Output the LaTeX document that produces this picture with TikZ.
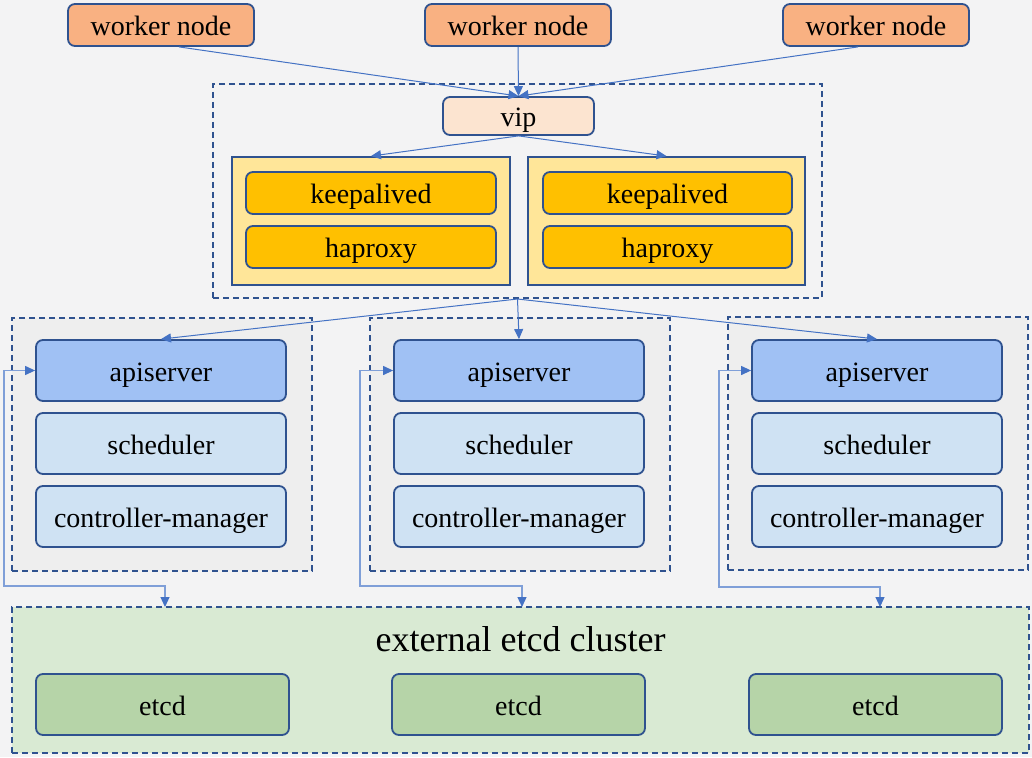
\documentclass[tikz,border=0pt]{standalone}
\usepackage{fontspec}
\setmainfont{Liberation Serif}
\usetikzlibrary{arrows.meta}
\definecolor{bord}{HTML}{2F528F}
\definecolor{arr}{HTML}{4472C4}
\definecolor{loopc}{HTML}{7F9FD8}
\definecolor{bgc}{HTML}{F3F3F4}
\definecolor{workerc}{HTML}{F9B182}
\definecolor{vipc}{HTML}{FCE4D0}
\definecolor{lbc}{HTML}{FFE699}
\definecolor{kac}{HTML}{FFC000}
\definecolor{mc}{HTML}{EEEEEE}
\definecolor{apic}{HTML}{A0C1F4}
\definecolor{schc}{HTML}{CFE2F3}
\definecolor{etcdcc}{HTML}{D9EAD3}
\definecolor{etcdc}{HTML}{B6D4A8}
\tikzset{
  rbox/.style={draw=bord, line width=1.8pt, rounded corners=7pt, inner sep=0pt, align=center, text height=21.5pt, text depth=0.5pt},
  sbox/.style={draw=bord, line width=1.8pt, inner sep=0pt},
  dbox/.style={draw=bord, line width=2pt, dash pattern=on 6pt off 4pt, inner sep=0pt},
  conn/.style={draw=arr, line width=1pt, -{Triangle[length=10pt,width=9pt]}},
  loopconn/.style={draw=loopc, line width=1.2pt, {Triangle[length=10pt,width=9pt,color=arr]}-{Triangle[length=10pt,width=9pt,color=arr]}},
}
\begin{document}
\begin{tikzpicture}[x=1pt,y=-1pt, font=\fontsize{28}{30}\selectfont]
\fill[bgc] (0,0) rectangle (1032,757);
\useasboundingbox (0,0) rectangle (1032,757);

% worker nodes
\node[rbox, fill=workerc, minimum width=186pt, minimum height=42pt] (w1) at (161,25) {worker node};
\node[rbox, fill=workerc, minimum width=186pt, minimum height=42pt] (w2) at (518,25) {worker node};
\node[rbox, fill=workerc, minimum width=186pt, minimum height=42pt] (w3) at (876,25) {worker node};

% load balancer area
\node[dbox, minimum width=609pt, minimum height=214pt] (lb) at (517.5,191) {};
\node[rbox, fill=vipc, minimum width=151pt, minimum height=38pt] (vip) at (518.5,116) {vip};
\node[sbox, fill=lbc, minimum width=278pt, minimum height=128pt] (lbL) at (371,221) {};
\node[sbox, fill=lbc, minimum width=277pt, minimum height=128pt] (lbR) at (666.5,221) {};
\node[rbox, fill=kac, minimum width=250pt, minimum height=42pt] (kaL) at (371,193) {keepalived};
\node[rbox, fill=kac, minimum width=250pt, minimum height=42pt] (haL) at (371,247) {haproxy};
\node[rbox, fill=kac, minimum width=249pt, minimum height=42pt] (kaR) at (667.5,193) {keepalived};
\node[rbox, fill=kac, minimum width=249pt, minimum height=42pt] (haR) at (667.5,247) {haproxy};

% masters
\node[dbox, fill=mc, minimum width=300pt, minimum height=253pt] (m1) at (162,444.5) {};
\node[dbox, fill=mc, minimum width=300pt, minimum height=253pt] (m2) at (520,444.5) {};
\node[dbox, fill=mc, minimum width=300pt, minimum height=253pt] (m3) at (878,443.5) {};

\foreach \n/\x in {1/161,2/519,3/877}{
  \node[rbox, fill=apic, minimum width=250pt, minimum height=61pt] (api\n) at (\x,370.5) {apiserver};
  \node[rbox, fill=schc, minimum width=250pt, minimum height=61pt] (sch\n) at (\x,443.5) {scheduler};
  \node[rbox, fill=schc, minimum width=250pt, minimum height=61pt] (cm\n) at (\x,516.5) {controller-manager};
}

% etcd cluster
\node[dbox, fill=etcdcc, minimum width=1017pt, minimum height=146pt] (ec) at (520.5,680) {};
\node[font=\fontsize{36}{40}\selectfont, text height=28pt, text depth=0.5pt, inner sep=0pt] (ectitle) at (520.5,638) {external etcd cluster};
\node[rbox, fill=etcdc, minimum width=253pt, minimum height=61pt] (e1) at (162.5,704.5) {etcd};
\node[rbox, fill=etcdc, minimum width=253pt, minimum height=61pt] (e2) at (518.5,704.5) {etcd};
\node[rbox, fill=etcdc, minimum width=253pt, minimum height=61pt] (e3) at (875.5,704.5) {etcd};

% connectors: workers -> vip
\draw[conn] ([xshift=18pt]w1.south) -- (vip.north);
\draw[conn] (w2.south) -- (vip.north);
\draw[conn] ([xshift=-18pt]w3.south) -- (vip.north);

% vip -> lb containers
\draw[conn] (vip.south) -- (lbL.north);
\draw[conn] (vip.south) -- (lbR.north);

% lb -> apiservers
\draw[conn] (lb.south) -- (api1.north);
\draw[conn] (lb.south) -- (api2.north);
\draw[conn] (lb.south) -- (api3.north);

% apiserver <-> etcd cluster
\coordinate (c1) at (4,586);
\coordinate (t1) at (165,607);
\coordinate (c2) at (360,586);
\coordinate (t2) at (522,607);
\coordinate (c3) at (719,587);
\coordinate (t3) at (880,607);
\draw[loopconn] (api1.west) -| (c1) -| (t1);
\draw[loopconn] (api2.west) -| (c2) -| (t2);
\draw[loopconn] (api3.west) -| (c3) -| (t3);
\end{tikzpicture}
\end{document}
